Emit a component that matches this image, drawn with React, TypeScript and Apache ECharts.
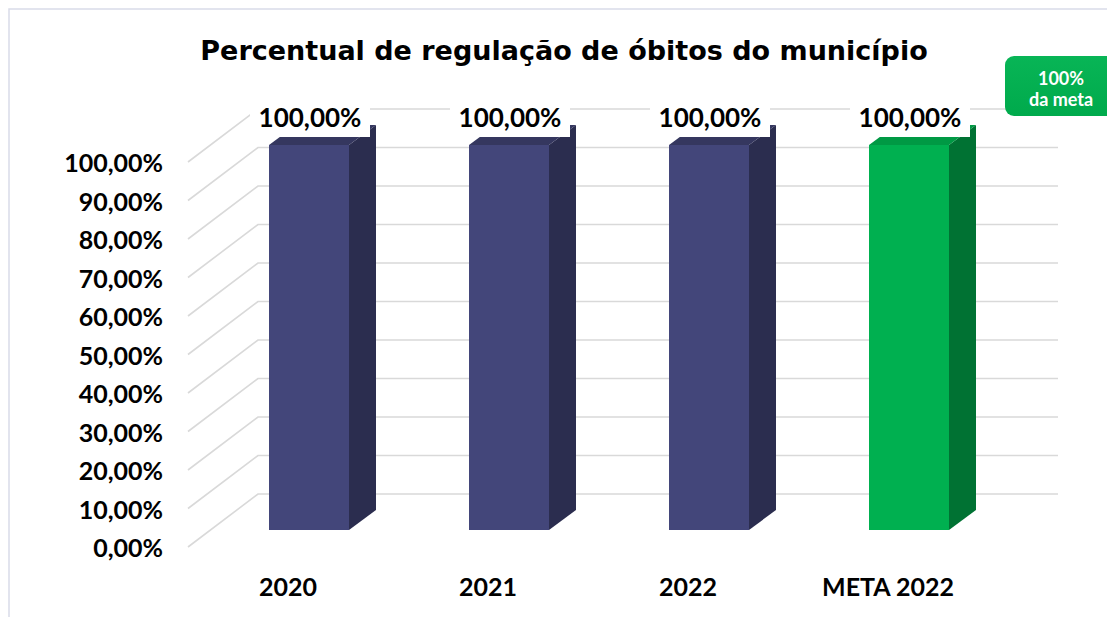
import React, { useEffect, useRef } from "react";
import * as echarts from "echarts";

const categories = ["2020", "2021", "2022", "META 2022"];
const values = [100, 100, 100, 100];
const yTicks = [0, 10, 20, 30, 40, 50, 60, 70, 80, 90, 100];
const titleText = "Percentual de regulação de óbitos do município";
const badgeLines = ["100%", "da meta"];

const fmt = (v: number) => v.toFixed(2).replace(".", ",") + "%";

const BACK = { dx: 70, dy: -53 };
const BAR = { dx: 21, dy: -17 };
const SIDE = { dx: 27, dy: -20 };

const faceColors = [
  { front: "#43467a", side: "#2b2d4f", top: "#35375f" },
  { front: "#43467a", side: "#2b2d4f", top: "#35375f" },
  { front: "#43467a", side: "#2b2d4f", top: "#35375f" },
  { front: "#00b050", side: "#007233", top: "#009944" },
];

const FONT = "Lato";

export default function App() {
  const ref = useRef<HTMLDivElement>(null);
  useEffect(() => {
    if (!ref.current) return;
    const chart = echarts.init(ref.current, null, { renderer: "svg" });
    const option: any = {
      animation: false,
      backgroundColor: "#ffffff",
      grid: { left: 188, width: 800, top: 162, bottom: 70, containLabel: false },
      xAxis: {
        type: "category",
        data: categories,
        axisLine: { show: false },
        axisTick: { show: false },
        axisLabel: {
          margin: 26,
          color: "#000",
          fontFamily: FONT,
          fontWeight: "bold",
          fontSize: 25,
        },
        splitLine: { show: false },
      },
      yAxis: {
        type: "value",
        min: 0,
        max: 100,
        interval: 10,
        axisLine: { show: false },
        axisTick: { show: false },
        splitLine: { show: false },
        axisLabel: {
          margin: 25,
          color: "#000",
          fontFamily: FONT,
          fontWeight: "bold",
          fontSize: 25,
          formatter: (v: number) => fmt(v),
        },
      },
      graphic: [
        {
          type: "rect",
          shape: { x: 9, y: 9, width: 1110, height: 620 },
          style: { fill: "none", stroke: "#d9dbe9", lineWidth: 1.5 },
          silent: true,
          z: -10,
        },
        {
          type: "text",
          x: 564,
          y: 50,
          style: {
            text: titleText,
            align: "center",
            verticalAlign: "middle",
            fontFamily: "DejaVu Sans",
            fontWeight: "bold",
            fontSize: 27,
            fill: "#000",
          },
        },
        {
          type: "group",
          z: 100,
          children: [
            {
              type: "rect",
              z: 100,
              shape: { x: 1005, y: 56, width: 115, height: 60, r: 9 },
              style: {
                fill: new echarts.graphic.LinearGradient(0, 0, 0, 1, [
                  { offset: 0, color: "#08b556" },
                  { offset: 1, color: "#00aa4c" },
                ]),
              },
            },
            {
              type: "text",
              z: 101,
              x: 1061,
              y: 78,
              style: {
                text: badgeLines[0],
                align: "center",
                verticalAlign: "middle",
                fontFamily: FONT,
                fontWeight: "bold",
                fontSize: 18,
                fill: "#ffffff",
              },
            },
            {
              type: "text",
              z: 101,
              x: 1061,
              y: 99,
              style: {
                text: badgeLines[1],
                align: "center",
                verticalAlign: "middle",
                fontFamily: FONT,
                fontWeight: "bold",
                fontSize: 18,
                fill: "#ffffff",
              },
            },
          ],
        },
      ],
      series: [
        {
          type: "custom",
          clip: false,
          z: 1,
          data: yTicks.map((t) => [0, t]),
          renderItem: (params: any, api: any) => {
            const cs = params.coordSys;
            const v = api.value(1);
            const yf = api.coord([0, v])[1];
            const x0 = cs.x;
            const x1 = cs.x + cs.width;
            const style = { stroke: "#d9d9d9", lineWidth: 1.6, fill: "none" };
            return {
              type: "polyline",
              shape: {
                points: [
                  [x0, yf],
                  [x0 + BACK.dx, yf + BACK.dy],
                  [x1 + BACK.dx, yf + BACK.dy],
                ],
              },
              style,
            };
          },
        },
        {
          type: "custom",
          clip: false,
          z: 2,
          data: values.map((v, i) => [i, v]),
          renderItem: (params: any, api: any) => {
            const idx = api.value(0);
            const v = api.value(1);
            const [cx, y0] = api.coord([idx, 0]);
            const y1 = api.coord([idx, v])[1];
            const bw = api.size([1, 0])[0] * 0.4;
            const c = faceColors[idx];
            const left = cx - bw / 2 + BAR.dx;
            const right = left + bw;
            const bottom = y0 + BAR.dy;
            const top = y1 + BAR.dy;
            const lx = cx + BAR.dx + 1;
            return {
              type: "group",
              children: [
                {
                  type: "polygon",
                  shape: {
                    points: [
                      [right, bottom],
                      [right + SIDE.dx, bottom + SIDE.dy],
                      [right + SIDE.dx, top + SIDE.dy],
                      [right, top],
                    ],
                  },
                  style: { fill: c.side },
                },
                {
                  type: "polygon",
                  shape: {
                    points: [
                      [left, top],
                      [left + SIDE.dx, top + SIDE.dy],
                      [right + SIDE.dx, top + SIDE.dy],
                      [right, top],
                    ],
                  },
                  style: { fill: c.top },
                },
                {
                  type: "rect",
                  shape: { x: left, y: top, width: bw, height: bottom - top },
                  style: { fill: c.front },
                },
                {
                  type: "rect",
                  shape: { x: lx - 60, y: top - 47, width: 120, height: 39 },
                  style: { fill: "#ffffff" },
                },
                {
                  type: "text",
                  x: lx,
                  y: top - 28,
                  style: {
                    text: fmt(v),
                    align: "center",
                    verticalAlign: "middle",
                    fontFamily: FONT,
                    fontWeight: "bold",
                    fontSize: 26,
                    fill: "#000",
                  },
                },
              ],
            };
          },
        },
      ],
    };
    chart.setOption(option);
    return () => chart.dispose();
  }, []);
  return (
    <div
      ref={ref}
      style={{ position: "fixed", left: 0, top: 0, width: 1107, height: 617 }}
    />
  );
}
